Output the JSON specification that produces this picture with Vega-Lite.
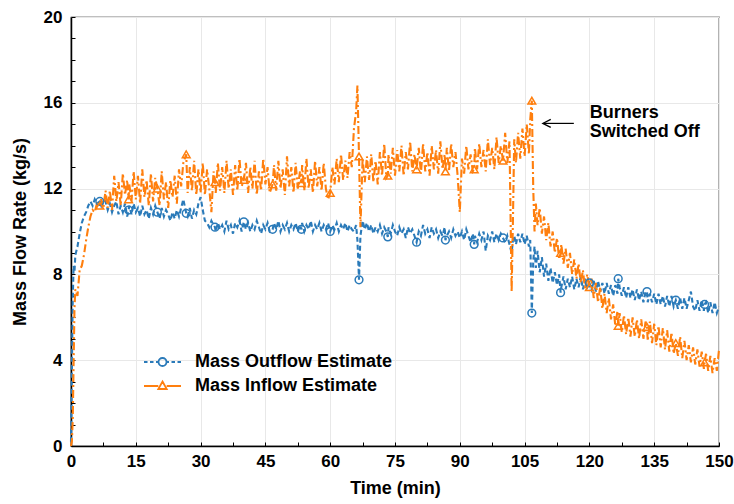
{
"$schema":"https://vega.github.io/schema/vega-lite/v6.json",
"width":648,"height":429,
"autosize":{"type":"none"},
"padding":{"left":71,"top":17,"right":15,"bottom":58},
"background":"white",
"config":{
 "view":{"stroke":"black","strokeWidth":1.2},
 "font":"Liberation Sans",
 "axis":{"domainColor":"black","domainWidth":1.5,"tickColor":"black","tickWidth":1,"tickSize":-4,"gridColor":"#e8e8e8","gridWidth":1,"labelColor":"black","titleColor":"black","labelFontSize":17,"labelFontWeight":"bold","titleFontSize":18,"titleFontWeight":"bold","labelFlush":false}
},
"datasets":{
"d":[
{"t":0,"a":0.2,"b":0},{"t":0.2,"a":3.5,"b":0.2},{"t":0.4,"a":6.8,"b":1.2},{"t":0.6,"a":8.4,"b":3.8},{"t":0.8,"a":8.1,"b":6.4},{"t":1,"a":8.9,"b":7.3},{"t":1.5,"a":9.3,"b":7.0},{"t":2,"a":9.9,"b":8.2},{"t":2.5,"a":10.4,"b":8.4},{"t":3,"a":10.7,"b":8.9},{"t":3.5,"a":10.9,"b":9.6},{"t":4,"a":11.2,"b":10.2},{"t":4.5,"a":11.4,"b":10.7},{"t":5,"a":11.2,"b":11.0},{"t":5.5,"a":11.5,"b":10.9},{"t":6,"a":11.3,"b":11.3},{"t":6.67,"a":11.4,"b":11.2},{"t":7,"a":11.2,"b":11.5},{"t":7.5,"a":11.5,"b":11.1},
{"t":8,"a":11.4,"b":11.9},{"t":8.5,"a":11.0,"b":11.1},{"t":9,"a":11.3,"b":11.9},{"t":9.5,"a":10.9,"b":11.0},{"t":10,"a":11.2,"b":12.6},{"t":10.5,"a":11.4,"b":11.4},{"t":11,"a":10.8,"b":12.3},{"t":11.5,"a":11.2,"b":11.2},{"t":12,"a":10.9,"b":12.7},{"t":12.5,"a":11.3,"b":11.7},{"t":13,"a":10.7,"b":12.4},{"t":13.33,"a":11.0,"b":11.5},{"t":13.5,"a":11.2,"b":12.2},{"t":14,"a":10.8,"b":11.4},{"t":14.5,"a":11.3,"b":12.8},{"t":15,"a":10.9,"b":11.5},{"t":15.5,"a":11.1,"b":12.6},{"t":16,"a":10.7,"b":11.3},{"t":16.5,"a":11.2,"b":12.9},{"t":17,"a":10.8,"b":11.6},{"t":17.5,"a":11.0,"b":12.4},{"t":18,"a":10.6,"b":11.2},{"t":18.5,"a":11.1,"b":12.7},{"t":19,"a":10.8,"b":11.4},{"t":19.5,"a":11.2,"b":12.5},{"t":20,"a":10.9,"b":12.0},{"t":20.5,"a":10.6,"b":11.2},{"t":21,"a":11.1,"b":12.8},{"t":21.5,"a":10.7,"b":11.5},{"t":22,"a":11.0,"b":12.3},{"t":22.5,"a":10.8,"b":11.1},{"t":23,"a":10.5,"b":12.4},{"t":23.5,"a":10.9,"b":11.6},{"t":24,"a":10.6,"b":12.6},{"t":24.5,"a":11.0,"b":11.3},{"t":25,"a":10.7,"b":12.9},{"t":25.5,"a":11.1,"b":12.1},{"t":26,"a":11.5,"b":13.2},{"t":26.67,"a":10.85,"b":13.6},{"t":27,"a":10.7,"b":11.8},{"t":27.5,"a":11.1,"b":13.0},{"t":28,"a":10.6,"b":11.9},{"t":28.5,"a":11.0,"b":13.3},{"t":29,"a":10.8,"b":11.7},{"t":29.5,"a":11.3,"b":12.9},{"t":30,"a":11.6,"b":11.8},{"t":30.5,"a":11.0,"b":13.2},{"t":31,"a":10.5,"b":11.7},{"t":31.5,"a":10.4,"b":12.9},{"t":32,"a":10.2,"b":12.0},{"t":32.5,"a":10.5,"b":10.9},{"t":33,"a":10.3,"b":12.8},{"t":33.33,"a":10.2,"b":12.3},{"t":33.5,"a":10.0,"b":11.8},{"t":34,"a":10.4,"b":13.2},{"t":34.5,"a":10.1,"b":11.9},{"t":35,"a":10.3,"b":13.0},{"t":35.5,"a":10.0,"b":11.8},{"t":36,"a":10.5,"b":13.3},{"t":36.5,"a":10.1,"b":12.0},{"t":37,"a":10.3,"b":12.9},{"t":37.5,"a":9.9,"b":11.7},{"t":38,"a":10.4,"b":13.1},{"t":38.5,"a":10.2,"b":11.9},{"t":39,"a":10.5,"b":13.4},{"t":39.5,"a":10.0,"b":12.1},{"t":40,"a":10.45,"b":12.4},{"t":40.5,"a":10.1,"b":13.2},{"t":41,"a":10.4,"b":11.8},{"t":41.5,"a":10.0,"b":13.0},{"t":42,"a":10.3,"b":12.0},{"t":42.5,"a":10.1,"b":13.3},{"t":43,"a":10.5,"b":11.7},{"t":43.5,"a":10.2,"b":12.8},{"t":44,"a":9.9,"b":11.9},{"t":44.5,"a":10.3,"b":13.4},{"t":45,"a":10.1,"b":12.2},{"t":45.5,"a":10.4,"b":13.0},{"t":46,"a":10.0,"b":11.8},{"t":46.67,"a":10.1,"b":12.2},{"t":47,"a":10.4,"b":13.1},{"t":47.5,"a":10.1,"b":11.9},{"t":48,"a":10.5,"b":13.3},{"t":48.5,"a":10.0,"b":12.0},{"t":49,"a":10.3,"b":12.9},{"t":49.5,"a":10.1,"b":11.7},{"t":50,"a":10.4,"b":13.5},{"t":50.5,"a":10.0,"b":12.1},{"t":51,"a":10.3,"b":13.0},{"t":51.5,"a":10.1,"b":11.8},{"t":52,"a":10.4,"b":13.2},{"t":52.5,"a":10.0,"b":12.0},{"t":53,"a":10.3,"b":12.8},{"t":53.33,"a":10.1,"b":12.25},{"t":53.5,"a":10.4,"b":13.1},{"t":54,"a":10.0,"b":11.9},{"t":54.5,"a":10.3,"b":13.4},{"t":55,"a":10.1,"b":12.0},{"t":55.5,"a":10.5,"b":12.9},{"t":56,"a":10.0,"b":11.8},{"t":56.5,"a":10.3,"b":13.3},{"t":57,"a":10.1,"b":12.1},{"t":57.5,"a":10.4,"b":13.0},{"t":58,"a":10.0,"b":11.9},{"t":58.5,"a":10.3,"b":13.2},{"t":59,"a":10.1,"b":12.0},{"t":59.5,"a":10.4,"b":11.5},{"t":60,"a":10.0,"b":11.8},{"t":60.5,"a":10.3,"b":13.0},{"t":61,"a":10.1,"b":12.2},{"t":61.5,"a":10.4,"b":13.4},{"t":62,"a":10.0,"b":12.3},{"t":62.5,"a":10.3,"b":13.6},{"t":63,"a":10.1,"b":12.4},{"t":63.5,"a":10.4,"b":13.3},{"t":64,"a":10.0,"b":12.5},{"t":64.5,"a":10.3,"b":13.7},{"t":65,"a":10.1,"b":13.0},{"t":65.5,"a":10.0,"b":14.8},{"t":66,"a":10.3,"b":15.6},{"t":66.3,"a":9.6,"b":16.8},{"t":66.67,"a":7.75,"b":13.5},{"t":67,"a":9.8,"b":10.2},{"t":67.5,"a":10.5,"b":13.4},{"t":68,"a":10.1,"b":12.3},{"t":68.5,"a":10.4,"b":13.5},{"t":69,"a":10.0,"b":12.4},{"t":69.5,"a":10.3,"b":13.6},{"t":70,"a":9.9,"b":12.3},{"t":70.5,"a":10.2,"b":13.3},{"t":71,"a":10.0,"b":12.2},{"t":71.5,"a":10.3,"b":13.7},{"t":72,"a":9.9,"b":12.6},{"t":72.5,"a":10.2,"b":14.1},{"t":73,"a":10.0,"b":12.5},{"t":73.33,"a":9.75,"b":12.6},{"t":73.5,"a":10.2,"b":13.6},{"t":74,"a":9.9,"b":12.7},{"t":74.5,"a":10.3,"b":13.9},{"t":75,"a":10.0,"b":12.6},{"t":75.5,"a":9.8,"b":13.8},{"t":76,"a":10.2,"b":12.8},{"t":76.5,"a":9.9,"b":14.0},{"t":77,"a":10.1,"b":12.6},{"t":77.5,"a":9.7,"b":13.7},{"t":78,"a":10.2,"b":12.9},{"t":78.5,"a":9.9,"b":14.2},{"t":79,"a":10.1,"b":12.8},{"t":79.5,"a":9.8,"b":13.6},{"t":80,"a":9.5,"b":12.9},{"t":80.5,"a":10.0,"b":13.9},{"t":81,"a":9.8,"b":12.7},{"t":81.5,"a":10.3,"b":14.1},{"t":82,"a":9.9,"b":12.8},{"t":82.5,"a":10.1,"b":13.7},{"t":83,"a":9.7,"b":12.6},{"t":83.5,"a":10.2,"b":14.0},{"t":84,"a":9.9,"b":12.9},{"t":84.5,"a":10.1,"b":13.8},{"t":85,"a":9.7,"b":12.7},{"t":85.5,"a":10.0,"b":14.2},{"t":86,"a":9.8,"b":12.9},{"t":86.5,"a":10.2,"b":13.6},{"t":86.67,"a":9.6,"b":12.8},{"t":87,"a":9.8,"b":13.9},{"t":87.5,"a":10.0,"b":12.8},{"t":88,"a":9.7,"b":14.1},{"t":88.5,"a":10.1,"b":13.0},{"t":89,"a":9.8,"b":13.7},{"t":89.5,"a":10.0,"b":12.6},{"t":90,"a":9.7,"b":10.9},{"t":90.5,"a":10.0,"b":13.4},{"t":91,"a":9.6,"b":12.7},{"t":91.5,"a":10.1,"b":14.0},{"t":92,"a":9.8,"b":12.9},{"t":92.5,"a":9.5,"b":13.6},{"t":93,"a":9.9,"b":12.8},{"t":93.33,"a":9.4,"b":12.9},{"t":93.5,"a":9.8,"b":13.9},{"t":94,"a":9.5,"b":12.9},{"t":94.5,"a":9.9,"b":14.1},{"t":95,"a":9.6,"b":13.0},{"t":95.5,"a":10.0,"b":13.8},{"t":96,"a":9.1,"b":12.8},{"t":96.5,"a":9.8,"b":14.3},{"t":97,"a":9.6,"b":13.1},{"t":97.5,"a":10.0,"b":13.9},{"t":98,"a":9.5,"b":12.9},{"t":98.5,"a":9.9,"b":14.4},{"t":99,"a":9.6,"b":13.2},{"t":99.5,"a":9.9,"b":14.0},{"t":100,"a":9.7,"b":13.3},{"t":100.5,"a":9.5,"b":14.6},{"t":101,"a":9.8,"b":13.2},{"t":101.5,"a":9.4,"b":14.2},{"t":102,"a":9.0,"b":7.2},{"t":102.3,"a":9.6,"b":10.5},{"t":102.6,"a":9.8,"b":14.3},{"t":103,"a":9.4,"b":13.2},{"t":103.5,"a":9.9,"b":14.6},{"t":104,"a":9.5,"b":13.4},{"t":104.5,"a":9.9,"b":14.8},{"t":105,"a":9.4,"b":13.5},{"t":105.5,"a":9.8,"b":15.0},{"t":106,"a":9.3,"b":13.6},{"t":106.3,"a":9.6,"b":15.2},{"t":106.67,"a":6.2,"b":16.1},
{"t":107,"a":8.6,"b":12.0},{"t":107.3,"a":9.3,"b":10.0},{"t":107.6,"a":8.3,"b":11.3},{"t":108,"a":9.1,"b":10.3},{"t":108.5,"a":8.1,"b":11.1},{"t":109,"a":8.8,"b":9.9},{"t":109.5,"a":7.9,"b":10.7},{"t":110,"a":8.5,"b":9.6},{"t":110.5,"a":7.7,"b":10.4},{"t":111,"a":8.3,"b":9.3},{"t":111.5,"a":7.6,"b":10.0},{"t":112,"a":8.1,"b":9.0},{"t":112.5,"a":7.5,"b":9.7},{"t":113,"a":8.0,"b":8.7},{"t":113.33,"a":7.15,"b":9.0},{"t":113.5,"a":7.4,"b":9.4},{"t":114,"a":7.9,"b":8.5},{"t":114.5,"a":7.3,"b":9.2},{"t":115,"a":7.8,"b":8.3},{"t":115.5,"a":7.4,"b":9.0},{"t":116,"a":7.9,"b":8.0},{"t":116.5,"a":7.3,"b":8.7},{"t":117,"a":7.8,"b":7.8},{"t":117.5,"a":7.4,"b":8.5},{"t":118,"a":7.9,"b":7.6},{"t":118.5,"a":7.3,"b":8.2},{"t":119,"a":7.8,"b":7.3},{"t":119.5,"a":7.4,"b":8.0},{"t":120,"a":7.6,"b":7.4},{"t":120.5,"a":7.3,"b":7.8},{"t":121,"a":7.7,"b":6.9},{"t":121.5,"a":7.2,"b":7.6},{"t":122,"a":7.7,"b":6.7},{"t":122.5,"a":7.2,"b":7.4},{"t":123,"a":7.6,"b":6.4},{"t":123.5,"a":7.1,"b":7.1},{"t":124,"a":7.6,"b":6.2},{"t":124.5,"a":7.1,"b":6.9},{"t":125,"a":7.5,"b":5.9},{"t":125.5,"a":7.0,"b":6.6},{"t":126,"a":7.5,"b":5.6},{"t":126.5,"a":7.1,"b":6.3},{"t":126.67,"a":7.8,"b":5.6},{"t":127,"a":7.4,"b":6.2},{"t":127.5,"a":7.0,"b":5.3},{"t":128,"a":7.4,"b":6.1},{"t":128.5,"a":6.9,"b":5.2},{"t":129,"a":7.4,"b":6.0},{"t":129.5,"a":6.9,"b":5.1},{"t":130,"a":7.3,"b":6.0},{"t":130.5,"a":6.8,"b":5.1},{"t":131,"a":7.3,"b":5.9},{"t":131.5,"a":6.8,"b":5.0},{"t":132,"a":7.2,"b":5.9},{"t":132.5,"a":6.7,"b":5.0},{"t":133,"a":7.2,"b":5.8},{"t":133.33,"a":7.2,"b":5.55},{"t":133.5,"a":6.7,"b":4.9},{"t":134,"a":7.1,"b":5.8},{"t":134.5,"a":6.7,"b":4.8},{"t":135,"a":7.1,"b":5.7},{"t":135.5,"a":6.6,"b":4.7},{"t":136,"a":7.1,"b":5.6},{"t":136.5,"a":6.6,"b":4.6},{"t":137,"a":7.0,"b":5.5},{"t":137.5,"a":6.5,"b":4.5},{"t":138,"a":7.0,"b":5.4},{"t":138.5,"a":6.5,"b":4.4},{"t":139,"a":7.0,"b":5.3},{"t":139.5,"a":6.5,"b":4.3},{"t":140,"a":6.8,"b":4.8},{"t":140.5,"a":6.4,"b":4.2},{"t":141,"a":6.9,"b":5.1},{"t":141.5,"a":6.4,"b":4.1},{"t":142,"a":6.9,"b":4.9},{"t":142.5,"a":6.4,"b":4.0},{"t":143,"a":6.8,"b":4.7},{"t":143.5,"a":7.2,"b":3.9},{"t":144,"a":6.5,"b":4.6},{"t":144.5,"a":6.3,"b":3.8},{"t":145,"a":6.8,"b":4.5},{"t":145.5,"a":6.3,"b":3.7},{"t":146,"a":6.8,"b":4.4},{"t":146.5,"a":6.3,"b":3.6},{"t":146.67,"a":6.6,"b":3.9},{"t":147,"a":6.7,"b":4.3},{"t":147.5,"a":6.2,"b":3.5},{"t":148,"a":6.7,"b":4.2},{"t":148.5,"a":6.2,"b":3.4},{"t":149,"a":6.7,"b":4.1},{"t":149.5,"a":6.2,"b":3.5},{"t":150,"a":6.5,"b":4.5}
],
"m":[
{"t":6.67,"a":11.4,"b":11.2},{"t":13.33,"a":11.0,"b":11.5},{"t":20,"a":10.9,"b":12.0},{"t":26.67,"a":10.85,"b":13.6},{"t":33.33,"a":10.2,"b":12.3},{"t":40,"a":10.45,"b":12.4},{"t":46.67,"a":10.1,"b":12.2},{"t":53.33,"a":10.1,"b":12.25},{"t":60,"a":10.0,"b":11.8},{"t":66.67,"a":7.75,"b":13.5},{"t":73.33,"a":9.75,"b":12.6},{"t":80,"a":9.5,"b":12.9},{"t":86.67,"a":9.6,"b":12.8},{"t":93.33,"a":9.4,"b":12.9},{"t":100,"a":9.7,"b":13.3},{"t":106.67,"a":6.2,"b":16.1},{"t":113.33,"a":7.15,"b":9.0},{"t":120,"a":7.6,"b":7.4},{"t":126.67,"a":7.8,"b":5.6},{"t":133.33,"a":7.2,"b":5.55},{"t":140,"a":6.8,"b":4.8},{"t":146.67,"a":6.6,"b":3.9}
]
},
"encoding":{
 "x":{"field":"t","type":"quantitative","scale":{"domain":[0,150],"nice":false,"zero":false},
  "axis":{"title":"Time (min)","values":[0,7.5,15,22.5,30,37.5,45,52.5,60,67.5,75,82.5,90,97.5,105,112.5,120,127.5,135,142.5,150],
   "labelExpr":"datum.value % 15 === 0 ? datum.label : ''",
   "gridOpacity":{"condition":{"test":"datum.value % 15 === 0","value":1},"value":0},
   "labelPadding":11,"titlePadding":10}},
 "y":{"field":"v","type":"quantitative","scale":{"domain":[0,20],"nice":false},
  "axis":{"title":"Mass Flow Rate (kg/s)","values":[0,1,2,3,4,5,6,7,8,9,10,11,12,13,14,15,16,17,18,19,20],
   "labelExpr":"datum.value % 4 === 0 ? datum.label : ''",
   "gridOpacity":{"condition":{"test":"datum.value % 4 === 0","value":1},"value":0},
   "labelPadding":13,"titlePadding":14}}
},
"layer":[
 {"data":{"name":"d"},"transform":[{"fold":["a"],"as":["key","v"]}],
  "mark":{"type":"line","strokeWidth":2.1,"color":"#2a7ab9","strokeDash":[5,3]},
  "encoding":{}},
 {"data":{"name":"d"},"transform":[{"fold":["b"],"as":["key","v"]}],
  "mark":{"type":"line","strokeWidth":2.1,"color":"#ff7f0e","strokeDash":[8,3,2,3]},
  "encoding":{}},
 {"data":{"name":"m"},"transform":[{"fold":["a"],"as":["key","v"]}],
  "mark":{"type":"point","shape":"circle","filled":false,"strokeWidth":1.5,"size":60,"opacity":1,"color":"#2a7ab9"},
  "encoding":{}},
 {"data":{"name":"m"},"transform":[{"fold":["b"],"as":["key","v"]}],
  "mark":{"type":"point","shape":"triangle-up","filled":false,"strokeWidth":1.5,"size":60,"opacity":1,"color":"#ff7f0e"},
  "encoding":{}},
 {"data":{"values":[{"key":"a","t":0,"v":0},{"key":"b","t":0,"v":0}]},
  "mark":{"type":"point","filled":false,"opacity":0,"strokeWidth":1.8},
  "encoding":{
   "stroke":{"field":"key","type":"nominal","scale":{"domain":["a","b"],"range":["#2a7ab9","#ff7f0e"]},
    "legend":{"title":null,"orient":"none","legendX":80.5,"legendY":334,"direction":"vertical","padding":0,"symbolSize":400,"symbolOpacity":1,"symbolStrokeWidth":1.8,"labelOffset":21.5,"rowPadding":4,"labelFontSize":18,"labelFontWeight":"bold","labelColor":"black","labelLimit":400,
     "labelExpr":"datum.value === 'a' ? 'Mass Outflow Estimate' : 'Mass Inflow Estimate'"}},
   "shape":{"field":"key","type":"nominal","scale":{"domain":["a","b"],"range":["M-1.85,0H-1.5M-1.25,0H-0.9M-0.65,0H-0.4M0.4,0H0.65M0.9,0H1.25M1.5,0H1.85M0.4,0A0.4,0.4 0 1 1 -0.4,0A0.4,0.4 0 1 1 0.4,0","M-1.85,0H-0.42M0.42,0H1.85M0,-0.45L0.42,0.3L-0.42,0.3Z"]},
    "legend":{"title":null,"orient":"none","legendX":80.5,"legendY":334,"direction":"vertical","padding":0,"symbolSize":400,"symbolOpacity":1,"symbolStrokeWidth":1.8,"labelOffset":21.5,"rowPadding":4,"labelFontSize":18,"labelFontWeight":"bold","labelColor":"black","labelLimit":400,
     "labelExpr":"datum.value === 'a' ? 'Mass Outflow Estimate' : 'Mass Inflow Estimate'"}}
  }},
 {"data":{"values":[{"t":107}]},
  "mark":{"type":"rule","color":"black","strokeWidth":1.5,"strokeDash":[5,3]},
  "encoding":{"y":{"datum":0},"y2":{"datum":20}}},
 {"data":{"values":[{"t":116.4,"v":15.04},{"t":109.4,"v":15.04}]},
  "mark":{"type":"line","color":"black","strokeWidth":1.2},
  "encoding":{}},
 {"data":{"values":[{"t":109.2,"v":15.04}]},
  "mark":{"type":"point","shape":"M1.6,-0.8L0,0L1.6,0.8","size":100,"filled":false,"color":"black","strokeWidth":1.2,"opacity":1},
  "encoding":{}},
 {"data":{"values":[{"t":120.1,"v":15.52,"label":"Burners"},{"t":120.1,"v":14.65,"label":"Switched Off"}]},
  "mark":{"type":"text","align":"left","baseline":"middle","fontSize":18,"fontWeight":"bold","color":"black"},
  "encoding":{"text":{"field":"label","type":"nominal"}}}
]
}
